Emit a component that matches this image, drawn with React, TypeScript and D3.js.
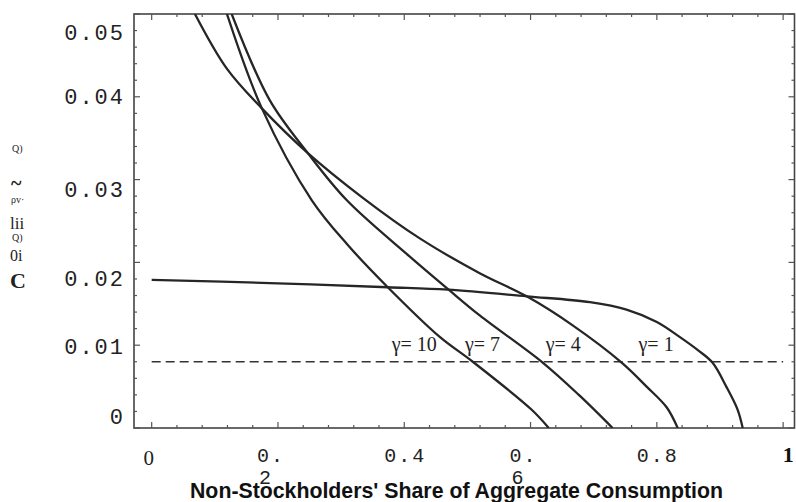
import React from 'react';
import * as d3 from 'd3';

// x tick values / labels (0.2 and 0.6 wrap onto a second line in the source)
const xTicks = [0, 0.2, 0.4, 0.6, 0.8, 1];
const xTickLabels = ['0', '0.2', '0.4', '0.6', '0.8', '1'];
const yTicks = [0, 0.01, 0.02, 0.03, 0.04, 0.05];
const yTickLabels = ['0', '0.01', '0.02', '0.03', '0.04', '0.05'];

// reference (dashed) rate
const refRate = 0.008;

// curves: [share, rate]
const gamma1 = [
  [0, 0.0179], [0.187, 0.0175], [0.374, 0.017], [0.469, 0.0167], [0.594, 0.0159],
  [0.694, 0.0152], [0.752, 0.0143], [0.8, 0.0128], [0.836, 0.011], [0.865, 0.0094],
  [0.888, 0.0079], [0.91, 0.005], [0.928, 0.0022], [0.936, 0],
];
const gamma4 = [
  [0.0685, 0.05], [0.119, 0.0434], [0.1745, 0.0386], [0.2473, 0.0332], [0.3344, 0.0278],
  [0.4246, 0.0229], [0.5195, 0.0187], [0.5939, 0.0159], [0.6667, 0.0124],
  [0.7443, 0.0079], [0.7838, 0.005], [0.8155, 0.0025], [0.833, 0],
];
const gamma7 = [
  [0.1267, 0.05], [0.1869, 0.0396], [0.2473, 0.0332], [0.3091, 0.0275],
  [0.4088, 0.0207], [0.4689, 0.0168], [0.5195, 0.0136], [0.6192, 0.0079], [0.6778, 0.0039],
  [0.7299, 0],
];
const gamma10 = [
  [0.1192, 0.05], [0.1745, 0.0386], [0.2536, 0.0275], [0.3106, 0.0221], [0.3739, 0.017],
  [0.4562, 0.011], [0.5085, 0.008], [0.6018, 0.0022], [0.6288, 0],
];
const curveSeries = [gamma1, gamma4, gamma7, gamma10];

const curveLabels = ['γ= 10', 'γ= 7', 'γ= 4', 'γ= 1'];
const curveLabelX = [0.38, 0.496, 0.624, 0.771];
const curveLabelY = 0.0093;

const xTitle = "Non-Stockholders' Share of Aggregate Consumption";
// garbled (scanned) vertical axis title, as it appears in the picture
const yTitleBits = [
  { t: 'Q)', x: 12, y: 152, s: 10 },
  { t: '~', x: 11, y: 190, s: 20, w: 'bold' },
  { t: 'ρv·', x: 11, y: 203, s: 10 },
  { t: 'lii', x: 10, y: 229, s: 17 },
  { t: 'Q)', x: 12, y: 241, s: 10 },
  { t: '0i', x: 10, y: 261, s: 16 },
  { t: 'C', x: 10, y: 288, s: 22, w: 'bold' },
];
// the scanned y labels sit a bit off their ticks
const yLabelNudge = [-12, 1, 16, 9, -1, 18];

const W = 796;
const H = 502;
const left = 134, right = 794.5, top = 14, bottom = 428;

const App = () => {
  const x = d3.scaleLinear().domain([-0.028, 1.018]).range([left, right]);
  const y = d3.scaleLinear().domain([0, 0.05]).range([bottom, top]);

  const line = d3.line<number[]>()
    .x(d => x(d[0]))
    .y(d => y(d[1]))
    .curve(d3.curveCatmullRom.alpha(0.5));

  const xMinor = d3.range(0, 1.0001, 0.04);
  const yMinor = d3.range(0, 0.05001, 0.002);
  const isMajorX = (v: number) => Math.abs(v / 0.2 - Math.round(v / 0.2)) < 1e-6;
  const isMajorY = (v: number) => Math.abs(v / 0.01 - Math.round(v / 0.01)) < 1e-6;

  const mono = "'Liberation Mono', 'DejaVu Sans Mono', monospace";
  const serif = "'Liberation Serif', 'DejaVu Serif', serif";

  return (
    <svg width={W} height={H} style={{ position: 'absolute', left: 0, top: 0, background: '#fff' }}>
      <defs>
        <clipPath id="plot">
          <rect x={left} y={top} width={right - left} height={bottom - top} />
        </clipPath>
      </defs>

      {/* frame */}
      <rect x={left} y={top} width={right - left} height={bottom - top} fill="none" stroke="#444" strokeWidth={1.6} />

      {/* ticks, pointing inward on all four sides */}
      <g stroke="#555" strokeWidth={1.2}>
        {xMinor.map(v => {
          const len = isMajorX(v) ? 6 : 3;
          return (
            <g key={'xt' + v}>
              <line x1={x(v)} x2={x(v)} y1={bottom} y2={bottom - len} />
              <line x1={x(v)} x2={x(v)} y1={top} y2={top + len} />
            </g>
          );
        })}
        {yMinor.map(v => {
          const len = isMajorY(v) ? 6 : 3;
          return (
            <g key={'yt' + v}>
              <line x1={left} x2={left + len} y1={y(v)} y2={y(v)} />
              <line x1={right} x2={right - len} y1={y(v)} y2={y(v)} />
            </g>
          );
        })}
      </g>

      {/* dashed reference line */}
      <line x1={x(0)} x2={x(1)} y1={y(refRate)} y2={y(refRate)} stroke="#333" strokeWidth={1.6} strokeDasharray="9 5" />

      {/* curves */}
      <g clipPath="url(#plot)">
        {curveSeries.map((s, i) => (
          <path key={i} d={line(s) || ''} fill="none" stroke="#262626" strokeWidth={2.3} />
        ))}
      </g>

      {/* curve labels */}
      {curveLabels.map((t, i) => (
        <text key={t} x={x(curveLabelX[i])} y={y(curveLabelY)} fontFamily={serif} fontSize={20} fill="#222">{t}</text>
      ))}

      {/* y tick labels */}
      {yTicks.map((v, i) => (
        <text key={'yl' + v} x={125} y={y(v) + yLabelNudge[i] + 8} textAnchor="end"
          fontFamily={mono} fontSize={22} letterSpacing={2} fill="#222">{yTickLabels[i]}</text>
      ))}

      {/* x tick labels */}
      {xTicks.map((v, i) => {
        const lab = xTickLabels[i];
        if (v === 0) {
          return <text key="xl0" x={x(v) - 3} y={465} textAnchor="middle" fontFamily={serif} fontSize={21} fill="#222">{lab}</text>;
        }
        if (v === 1) {
          return <text key="xl1" x={x(v) + 5} y={462} textAnchor="middle" fontFamily={serif} fontWeight="bold" fontSize={22} fill="#111">{lab}</text>;
        }
        if (v === 0.2 || v === 0.6) {
          // wrapped: "0." on the first line, last digit beneath
          const start = x(v) - 21;
          return (
            <text key={'xl' + v} fontFamily={mono} fontSize={20} letterSpacing={2} fill="#222">
              <tspan x={start} y={462}>{lab.slice(0, 2)}</tspan>
              <tspan x={start + 2} y={484}>{lab.slice(2)}</tspan>
            </text>
          );
        }
        return <text key={'xl' + v} x={x(v) + 1} y={462} textAnchor="middle" fontFamily={mono} fontSize={20} letterSpacing={2} fill="#222">{lab}</text>;
      })}

      {/* axis titles */}
      <text x={190} y={498} fontFamily="'Liberation Sans Narrow', 'Liberation Sans', Arial, sans-serif" fontWeight="bold"
        fontSize={22} textLength={533} lengthAdjust="spacingAndGlyphs" fill="#111">{xTitle}</text>
      {yTitleBits.map((b, i) => (
        <text key={'yb' + i} x={b.x} y={b.y} fontFamily={serif} fontSize={b.s} fontWeight={b.w || 'normal'} fill="#222">{b.t}</text>
      ))}
    </svg>
  );
};

export default App;
